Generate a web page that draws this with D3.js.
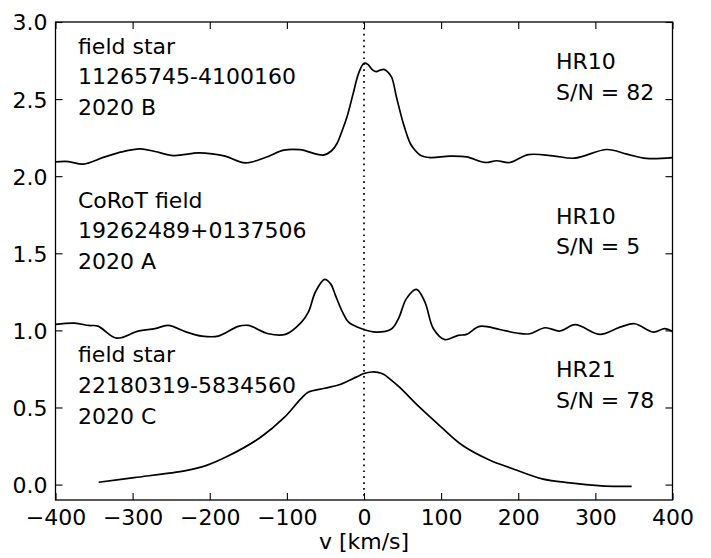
<!DOCTYPE html>
<html>
<head>
<meta charset="utf-8">
<script src="https://cdn.jsdelivr.net/npm/d3@7"></script>
<style>
  body { margin: 0; background: #fff; }
  text { font-family: "DejaVu Sans", sans-serif; fill: #000; }
</style>
</head>
<body>
<svg id="chart" width="711" height="558"></svg>
<script>
// ---------- data ----------
const xTicks = [-400, -300, -200, -100, 0, 100, 200, 300, 400];
const yTicks = [0.0, 0.5, 1.0, 1.5, 2.0, 2.5, 3.0];
const xDomain = [-400, 400];
const yDomain = [-0.1, 3.0];
const xLabel = "v [km/s]";

// field star 11265745-4100160, 2020 B (HR10)
const velB = [-400,-383,-364,-336,-314,-290,-271,-247,-215,-197,-180,-154,-128,-104,-83,-53,-42,-35,-28,-22,-14,-7,0,5,11,16,21,26,31,36,42,51,60,66,73,86,111,133,157,172,189,213,245,273,315,341,366,400];
const fluxB = [2.093,2.095,2.078,2.125,2.158,2.177,2.160,2.134,2.151,2.145,2.130,2.086,2.121,2.169,2.172,2.137,2.165,2.212,2.30,2.385,2.537,2.667,2.733,2.725,2.69,2.678,2.688,2.693,2.675,2.64,2.515,2.342,2.212,2.17,2.136,2.121,2.13,2.125,2.089,2.10,2.089,2.14,2.132,2.117,2.173,2.143,2.115,2.12];

// CoRoT field 19262489+0137506, 2020 A (HR10)
const velA = [-400,-375,-357,-345,-321,-293,-271,-254,-230,-210,-189,-163,-150,-124,-102,-81,-72,-63,-51,-43,-37,-28,-20,-3,16,36,45,55,68,79,90,105,122,133,150,176,198,215,235,254,274,306,332,351,375,390,400];
const fluxA = [1.039,1.047,1.032,1.028,0.950,0.995,1.011,1.032,0.989,0.963,0.963,1.026,1.032,0.978,0.974,1.054,1.12,1.249,1.331,1.30,1.227,1.12,1.054,1.011,0.989,1.011,1.08,1.206,1.266,1.184,1.011,0.94,0.968,0.974,1.026,1.006,0.983,0.978,1.017,0.996,1.037,0.974,1.021,1.043,0.989,1.011,0.993];

// field star 22180319-5834560, 2020 C (HR21)
const velC = [-344,-298,-231,-205,-175,-134,-103,-82,-72,-51,-31,-10,0,10,18,26,36,46,72,98,128,164,190,231,267,308,330,347];
const fluxC = [0.015,0.045,0.091,0.123,0.188,0.307,0.437,0.556,0.60,0.625,0.649,0.697,0.72,0.73,0.728,0.714,0.675,0.632,0.502,0.383,0.253,0.156,0.108,0.037,0.011,-0.008,-0.012,-0.012];

const leftTexts = [
  ["field star", "11265745-4100160", "2020 B"],
  ["CoRoT field", "19262489+0137506", "2020 A"],
  ["field star", "22180319-5834560", "2020 C"]
];
const rightTexts = [
  ["HR10", "S/N = 82"],
  ["HR10", "S/N = 5"],
  ["HR21", "S/N = 78"]
];

// ---------- layout ----------
const W = 711, H = 558;
const plot = { left: 55.5, right: 672.5, top: 22, bottom: 500 };
const FS = 22;
const svg = d3.select("#chart");
svg.append("rect").attr("width", W).attr("height", H).attr("fill", "#fff");

const x = d3.scaleLinear().domain(xDomain).range([plot.left, plot.right]);
const y = d3.scaleLinear().domain(yDomain).range([plot.bottom, plot.top]);

const g = svg.append("g");

// reference line at v = 0
g.append("line")
  .attr("x1", x(0)).attr("x2", x(0))
  .attr("y1", plot.top).attr("y2", plot.bottom)
  .attr("stroke", "#000").attr("stroke-width", 1.7)
  .attr("stroke-dasharray", "1.7,4.2");

// curves
const line = d3.line().x(d => x(d[0])).y(d => y(d[1])).curve(d3.curveCatmullRom.alpha(0.5));
[[velB, fluxB], [velA, fluxA], [velC, fluxC]].forEach(([v, f]) => {
  g.append("path")
    .datum(v.map((vv, i) => [vv, f[i]]))
    .attr("d", line)
    .attr("fill", "none")
    .attr("stroke", "#000")
    .attr("stroke-width", 1.7)
    .attr("stroke-linejoin", "round");
});

// axes (inward ticks on all sides)
const TL = 7;
const fmtX = d3.format("d");
const fmtY = d3.format(".1f");

const axB = svg.append("g").attr("transform", `translate(0,${plot.bottom})`)
  .call(d3.axisBottom(x).tickValues(xTicks).tickSize(-TL).tickFormat(d => fmtX(d)));
const axT = svg.append("g").attr("transform", `translate(0,${plot.top})`)
  .call(d3.axisTop(x).tickValues(xTicks).tickSize(-TL).tickFormat(""));
const axL = svg.append("g").attr("transform", `translate(${plot.left},0)`)
  .call(d3.axisLeft(y).tickValues(yTicks).tickSize(-TL).tickFormat(d => fmtY(d)));
const axR = svg.append("g").attr("transform", `translate(${plot.right},0)`)
  .call(d3.axisRight(y).tickValues(yTicks).tickSize(-TL).tickFormat(""));

[axB, axT, axL, axR].forEach(a => {
  a.select(".domain").remove();
  a.selectAll(".tick line").attr("stroke", "#000").attr("stroke-width", 1.1);
});
axB.selectAll(".tick text")
  .attr("y", 25).attr("dy", null)
  .attr("font-size", FS).attr("font-family", "DejaVu Sans").attr("fill", "#000");
axL.selectAll(".tick text")
  .attr("x", -8).attr("dy", "0.36em")
  .attr("font-size", FS).attr("font-family", "DejaVu Sans").attr("fill", "#000");

// frame
svg.append("rect")
  .attr("x", plot.left).attr("y", plot.top)
  .attr("width", plot.right - plot.left).attr("height", plot.bottom - plot.top)
  .attr("fill", "none").attr("stroke", "#000").attr("stroke-width", 1.3);

// axis label
svg.append("text")
  .attr("x", (plot.left + plot.right) / 2).attr("y", 549)
  .attr("text-anchor", "middle").attr("font-size", FS)
  .text(xLabel);

// annotations
const leftBase = [53.5, 207.5, 362];
const rightBase = [69, 223.5, 377];
const lineGap = 30.8;
leftTexts.forEach((lines, k) => {
  lines.forEach((t, i) => {
    svg.append("text").attr("x", 78).attr("y", leftBase[k] + i * lineGap)
      .attr("font-size", FS).text(t);
  });
});
rightTexts.forEach((lines, k) => {
  lines.forEach((t, i) => {
    svg.append("text").attr("x", 556).attr("y", rightBase[k] + i * lineGap)
      .attr("font-size", FS).text(t);
  });
});
</script>
</body>
</html>
